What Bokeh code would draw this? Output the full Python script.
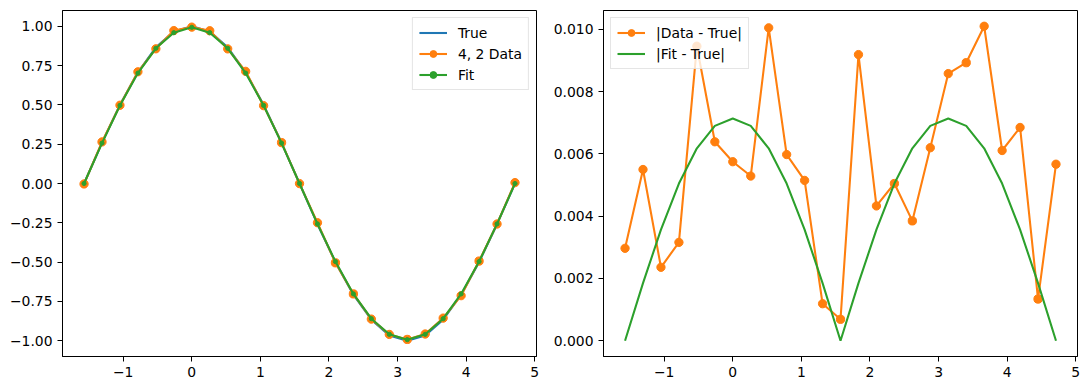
from bokeh.plotting import figure
from bokeh.layouts import row
from bokeh.models import Range1d, FixedTicker, CustomJSTickFormatter, Legend, LegendItem
from bokeh.embed import file_html
from bokeh.resources import INLINE

x = [-1.5708, -1.3090, -1.0472, -0.7854, -0.5236, -0.2618, 0.0, 0.2618, 0.5236, 0.7854,
     1.0472, 1.3090, 1.5708, 1.8326, 2.0944, 2.3562, 2.6180, 2.8798, 3.1416, 3.4034,
     3.6652, 3.9270, 4.1888, 4.4506, 4.7124]
true_vals = [0.0, 0.2588, 0.5, 0.7071, 0.8660, 0.9659, 1.0, 0.9659, 0.8660, 0.7071,
             0.5, 0.2588, 0.0, -0.2588, -0.5, -0.7071, -0.8660, -0.9659, -1.0, -0.9659,
             -0.8660, -0.7071, -0.5, -0.2588, 0.0]
data_vals = [-0.0030, 0.2643, 0.4976, 0.7103, 0.8565, 0.9723, 0.9942, 0.9712, 0.8560, 0.7131,
             0.4949, 0.2600, -0.0007, -0.2496, -0.5043, -0.7021, -0.8622, -0.9597, -0.9914, -0.9570,
             -0.8559, -0.7132, -0.4932, -0.2575, 0.0057]
fit_vals = [0.0, 0.2570, 0.4964, 0.7020, 0.8598, 0.9590, 0.9929, 0.9590, 0.8598, 0.7020,
            0.4964, 0.2570, 0.0, -0.2570, -0.4964, -0.7020, -0.8598, -0.9590, -0.9929, -0.9590,
            -0.8598, -0.7020, -0.4964, -0.2570, 0.0]
err_data = [0.00297, 0.00550, 0.00236, 0.00316, 0.00946, 0.00639, 0.00575, 0.00529, 0.01005, 0.00598,
            0.00515, 0.00119, 0.00069, 0.00919, 0.00433, 0.00505, 0.00385, 0.00620, 0.00858, 0.00893,
            0.01010, 0.00611, 0.00685, 0.00134, 0.00567]
err_fit = [0.0, 0.00185, 0.00357, 0.00505, 0.00618, 0.00690, 0.00714, 0.00690, 0.00618, 0.00505,
           0.00357, 0.00185, 0.0, 0.00185, 0.00357, 0.00505, 0.00618, 0.00690, 0.00714, 0.00690,
           0.00618, 0.00505, 0.00357, 0.00185, 0.0]

x_ticks = [-1, 0, 1, 2, 3, 4, 5]
left_y_ticks = [-1.0, -0.75, -0.5, -0.25, 0.0, 0.25, 0.5, 0.75, 1.0]
right_y_ticks = [0.0, 0.002, 0.004, 0.006, 0.008, 0.010]

C0, C1, C2 = "#1f77b4", "#ff7f0e", "#2ca02c"
FONT = "DejaVu Sans"
FS = "13.9px"


def fmt(decimals):
    return CustomJSTickFormatter(code="""
        const s = Math.abs(tick).toFixed(%d);
        return (tick < -1e-12 ? "\\u2212" : "") + s;
    """ % decimals)


def style(p, yticks, ydec):
    p.xaxis.ticker = FixedTicker(ticks=x_ticks)
    p.yaxis.ticker = FixedTicker(ticks=yticks)
    p.xaxis.formatter = fmt(0)
    p.yaxis.formatter = fmt(ydec)
    for ax in (p.xaxis, p.yaxis):
        ax.major_tick_out = 5
        ax.major_tick_in = 0
        ax.minor_tick_out = 0
        ax.minor_tick_in = 0
        ax.major_tick_line_color = "black"
        ax.major_tick_line_width = 1
        ax.axis_line_color = "black"
        ax.axis_line_width = 1
        ax.major_label_standoff = 5
        ax.major_label_text_font = FONT
        ax.major_label_text_font_size = FS
        ax.major_label_text_color = "black"
    p.xgrid.visible = False
    p.ygrid.visible = False
    p.outline_line_color = "black"
    p.outline_line_width = 1
    p.outline_line_alpha = 1


def legend_style(lg):
    lg.label_text_font = FONT
    lg.label_text_font_size = FS
    lg.label_text_color = "black"
    lg.glyph_width = 28
    lg.glyph_height = 17
    lg.label_height = 17
    lg.label_standoff = 11
    lg.padding = 6
    lg.spacing = 4
    lg.margin = 7
    lg.border_line_color = "#cccccc"
    lg.border_line_width = 1
    lg.background_fill_alpha = 0.8


p1 = figure(width=548, height=388, output_backend="svg", toolbar_location=None,
            x_range=Range1d(-1.885, 5.026), y_range=Range1d(-1.1, 1.1),
            min_border_left=62, min_border_right=12, min_border_top=10, min_border_bottom=32)
style(p1, left_y_ticks, 2)
r_true = p1.line(x, true_vals, line_color=C0, line_width=2.08)
r_dl = p1.line(x, data_vals, line_color=C1, line_width=2.08)
r_ds = p1.scatter(x, data_vals, size=8.3, marker="circle", fill_color=C1, line_color=C1)
r_fl = p1.line(x, fit_vals, line_color=C2, line_width=2.08)
r_fs = p1.scatter(x, fit_vals, size=4.2, marker="circle", fill_color=C2, line_color=C2)
lg1 = Legend(items=[LegendItem(label="True", renderers=[r_true]),
                    LegendItem(label="4, 2 Data", renderers=[r_dl, r_ds]),
                    LegendItem(label="Fit", renderers=[r_fl, r_fs])],
             location="top_right")
legend_style(lg1)
p1.add_layout(lg1)

p2 = figure(width=533, height=388, output_backend="svg", toolbar_location=None,
            x_range=Range1d(-1.885, 5.026), y_range=Range1d(-0.000505, 0.010606),
            min_border_left=55, min_border_right=4, min_border_top=10, min_border_bottom=32)
style(p2, right_y_ticks, 3)
r_el = p2.line(x, err_data, line_color=C1, line_width=2.08)
r_es = p2.scatter(x, err_data, size=8.3, marker="circle", fill_color=C1, line_color=C1)
r_ef = p2.line(x, err_fit, line_color=C2, line_width=2.08)
lg2 = Legend(items=[LegendItem(label="|Data - True|", renderers=[r_el, r_es]),
                    LegendItem(label="|Fit - True|", renderers=[r_ef])],
             location="top_left")
legend_style(lg2)
p2.add_layout(lg2)

layout = row(p1, p2)
open("out.html", "w").write(file_html(layout, INLINE))
